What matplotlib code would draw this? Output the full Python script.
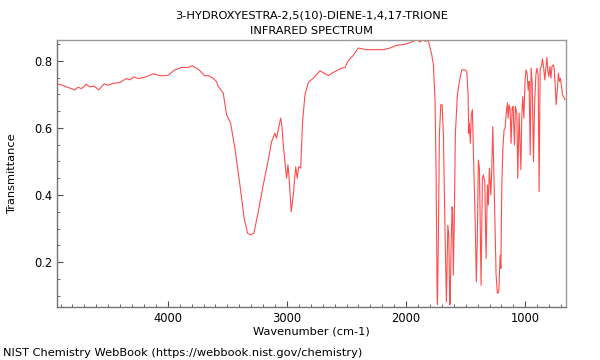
import matplotlib
matplotlib.use("Agg")
import matplotlib.pyplot as plt
from matplotlib.ticker import MultipleLocator

title_lines = ["3-HYDROXYESTRA-2,5(10)-DIENE-1,4,17-TRIONE", "INFRARED SPECTRUM"]
x_label = "Wavenumber (cm-1)"
y_label = "Transmittance"
credit = "NIST Chemistry WebBook (https://webbook.nist.gov/chemistry)"

wavenumber = [
    4930, 4893, 4781, 4753, 4725, 4683, 4655, 4619, 4580, 4535, 4501, 4459, 4403,
    4347, 4319, 4286, 4249, 4193, 4123, 4053, 3997, 3941, 3885, 3829, 3796, 3745,
    3689, 3661, 3620, 3591, 3577, 3535, 3507, 3473, 3437, 3395, 3359, 3331, 3305,
    3278, 3241, 3199, 3157, 3129, 3101, 3087, 3065, 3053, 3042, 3031, 3017, 3003,
    2992, 2984, 2964, 2947, 2927, 2914, 2902, 2885, 2869, 2849, 2821, 2780, 2723,
    2653, 2597, 2541, 2513, 2486, 2444, 2401, 2331, 2191, 2135, 2079, 1995, 1940,
    1910, 1883, 1860, 1841, 1813, 1799, 1785, 1771, 1757, 1749, 1740, 1737, 1729,
    1721, 1709, 1698, 1687, 1673, 1662, 1656, 1650, 1642, 1634, 1630, 1623, 1614,
    1609, 1604, 1596, 1587, 1570, 1553, 1533, 1505, 1491, 1480, 1475, 1470, 1461,
    1453, 1444, 1436, 1419, 1411, 1402, 1394, 1385, 1371, 1360, 1352, 1340, 1329,
    1318, 1310, 1301, 1289, 1281, 1273, 1262, 1245, 1234, 1222, 1211, 1205, 1197,
    1188, 1178, 1169, 1161, 1150, 1144, 1136, 1127, 1119, 1110, 1102, 1091, 1083,
    1071, 1063, 1052, 1037, 1029, 1021, 1012, 1001, 993, 985, 976, 968, 959, 951,
    942, 931, 923, 911, 903, 892, 884, 875, 864, 856, 847, 836, 827, 819, 810, 802,
    793, 785, 776, 766, 758, 749, 741, 730, 722, 713, 705, 697, 688, 680, 666,
]
transmittance = [
    0.731, 0.728, 0.713, 0.721, 0.717, 0.730, 0.722, 0.725, 0.713, 0.731, 0.727, 0.733, 0.735,
    0.747, 0.743, 0.752, 0.747, 0.751, 0.761, 0.755, 0.757, 0.773, 0.780, 0.780, 0.785, 0.775,
    0.755, 0.756, 0.748, 0.738, 0.723, 0.704, 0.639, 0.614, 0.539, 0.430, 0.330, 0.286, 0.281,
    0.286, 0.350, 0.430, 0.504, 0.559, 0.584, 0.569, 0.609, 0.629, 0.604, 0.549, 0.499, 0.450,
    0.490, 0.460, 0.350, 0.400, 0.484, 0.450, 0.484, 0.480, 0.619, 0.699, 0.735, 0.748, 0.770,
    0.756, 0.768, 0.778, 0.780, 0.800, 0.816, 0.838, 0.833, 0.833, 0.838, 0.846, 0.850, 0.858,
    0.862, 0.856, 0.862, 0.858, 0.860, 0.838, 0.818, 0.788, 0.679, 0.481, 0.100, 0.074, 0.280,
    0.579, 0.669, 0.669, 0.579, 0.281, 0.081, 0.200, 0.310, 0.280, 0.072, 0.081, 0.241, 0.365,
    0.340, 0.161, 0.320, 0.579, 0.699, 0.738, 0.773, 0.773, 0.768, 0.699, 0.584, 0.614, 0.554,
    0.639, 0.654, 0.539, 0.300, 0.141, 0.280, 0.504, 0.480, 0.131, 0.450, 0.460, 0.440, 0.211,
    0.430, 0.370, 0.480, 0.400, 0.480, 0.604, 0.440, 0.161, 0.107, 0.111, 0.221, 0.181, 0.430,
    0.539, 0.594, 0.599, 0.639, 0.674, 0.629, 0.669, 0.654, 0.554, 0.659, 0.664, 0.549, 0.664,
    0.644, 0.450, 0.644, 0.475, 0.639, 0.693, 0.629, 0.748, 0.773, 0.763, 0.713, 0.738, 0.519, 0.778,
    0.733, 0.499, 0.659, 0.758, 0.778, 0.758, 0.410, 0.778, 0.783, 0.806, 0.783, 0.743, 0.778, 0.810,
    0.768, 0.753, 0.783, 0.748, 0.783, 0.788, 0.778, 0.728, 0.669, 0.719, 0.763, 0.738, 0.748, 0.728,
    0.699, 0.693, 0.684,
]

x_ticks = [4000, 3000, 2000, 1000]
y_ticks = [0.2, 0.4, 0.6, 0.8]

fig = plt.figure(figsize=(6, 3.6), dpi=100)
ax = fig.add_axes([0.095, 0.147, 0.848, 0.742])
ax.plot(wavenumber, transmittance, color="#ff2020", lw=0.8, alpha=0.8)

ax.set_xlim(4930, 660)
ax.set_ylim(0.066, 0.862)
ax.set_xticks(x_ticks)
ax.set_xticklabels([str(t) for t in x_ticks])
ax.set_yticks(y_ticks)
ax.set_yticklabels([f"{t:.1f}" for t in y_ticks])
ax.xaxis.set_minor_locator(MultipleLocator(100))
ax.yaxis.set_minor_locator(MultipleLocator(0.05))
ax.tick_params(which="both", direction="in", labelsize=8.3, color="0.3")
ax.tick_params(which="major", length=4)
ax.tick_params(which="minor", length=2)
for side, sp in ax.spines.items():
    sp.set_color("0.6" if side in ("top", "right") else "0.45")
    sp.set_linewidth(1.0)

ax.set_xlabel(x_label, fontsize=8.2, labelpad=1)
ax.set_ylabel(y_label, fontsize=8.2, labelpad=12)
ax.set_title("\n".join(title_lines), fontsize=8.2, pad=4, linespacing=1.75)
fig.text(0.005, 0.006, credit, fontsize=8.2, ha="left", va="bottom")

fig.savefig("out.png", dpi=100)
